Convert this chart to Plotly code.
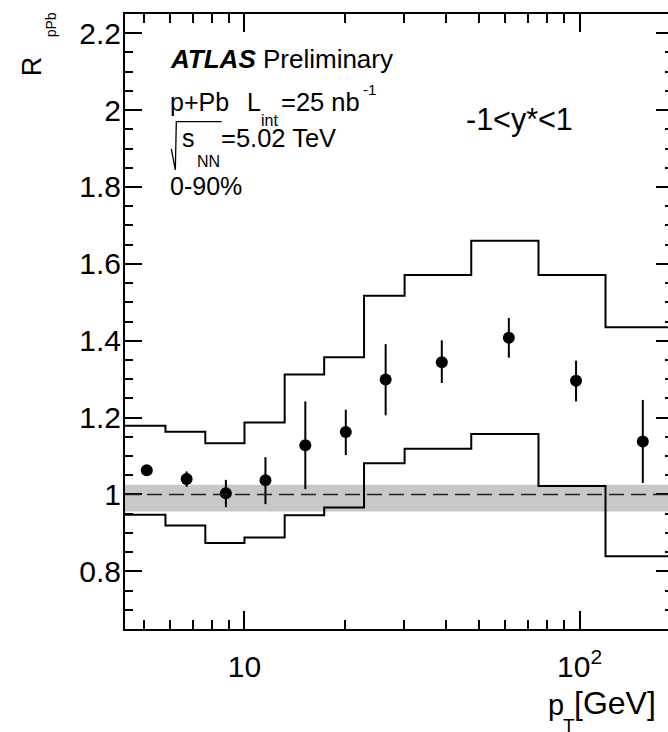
import math
import plotly.graph_objects as go

# ---------------- data ----------------
pt = [5.11, 6.72, 8.80, 11.55, 15.19, 20.06, 26.38, 38.8, 61.5, 97.6, 154.4]
rppb = [1.063, 1.040, 1.003, 1.037, 1.128, 1.1625, 1.299, 1.344, 1.408, 1.296, 1.138]
err_up = [0.008, 0.02, 0.035, 0.06, 0.114, 0.058, 0.092, 0.057, 0.051, 0.052, 0.108]
err_dn = [0.008, 0.02, 0.036, 0.062, 0.114, 0.060, 0.093, 0.054, 0.052, 0.054, 0.108]

bin_edges = [4.4, 5.81, 7.64, 10.0, 13.18, 17.29, 22.74, 30.05, 47.5, 75.4, 119.5, 200.0]
sys_upper = [1.179, 1.163, 1.133, 1.187, 1.312, 1.357, 1.517, 1.571, 1.66, 1.571, 1.435]
sys_lower = [0.9475, 0.919, 0.874, 0.888, 0.946, 0.966, 1.081, 1.119, 1.157, 1.022, 0.839]

norm_band = [0.956, 1.0255]
unity = 1.0

x_range = [4.4, 190.0]
y_range = [0.65, 2.25]
x_major = [10, 100]
x_major_text = ["10", "10<sup>2</sup>"]
x_minor = [5, 6, 7, 8, 9, 20, 30, 40, 50, 60, 70, 80, 90]

FONT = "Liberation Sans, Arial, Helvetica, sans-serif"

# ---------------- geometry (pixels) ----------------
L, T, W, H = 125, 14, 550, 615.3
FIG_W, FIG_H = 680, 732


def px(x):
    return (x - L) / W


def py(y):
    return (T + H - y) / H


fig = go.Figure()

# systematic envelope (step histograms)
fig.add_trace(go.Scatter(x=bin_edges, y=sys_upper + [sys_upper[-1]], mode="lines",
                         line=dict(color="black", width=2, shape="hv"),
                         showlegend=False, hoverinfo="skip"))
fig.add_trace(go.Scatter(x=bin_edges, y=sys_lower + [sys_lower[-1]], mode="lines",
                         line=dict(color="black", width=2, shape="hv"),
                         showlegend=False, hoverinfo="skip"))

# data points
fig.add_trace(go.Scatter(x=pt, y=rppb, mode="markers",
                         marker=dict(color="black", size=12),
                         error_y=dict(type="data", symmetric=False, array=err_up,
                                      arrayminus=err_dn, color="black",
                                      thickness=2, width=0),
                         showlegend=False))

shapes = [
    dict(type="rect", xref="paper", yref="y", x0=0, x1=1,
         y0=norm_band[0], y1=norm_band[1], fillcolor="#c8c8c8",
         line=dict(width=0), layer="below"),
    dict(type="line", xref="paper", yref="y", x0=0, x1=1, y0=unity, y1=unity,
         line=dict(color="#222222", width=1.6, dash="15px,7px"), layer="above"),
    # sqrt sign
    dict(type="path", xref="paper", yref="paper",
         path=f"M {px(171.5)},{py(149)} L {px(175.5)},{py(170)} L {px(176.5)},{py(121.7)} L {px(222)},{py(121.7)}",
         line=dict(color="black", width=1.3)),
]


def ann(text, xl, base, fs, anchor="left", **kw):
    return dict(text=text, xref="paper", yref="paper", x=px(xl), y=py(base - 0.35 * fs),
                xanchor=anchor, yanchor="middle", showarrow=False,
                font=dict(family=FONT, size=fs, color="black"), **kw)


annotations = [
    ann("<b><i>ATLAS</i></b> Preliminary", 168, 68.5, 26),
    ann("p+Pb", 168, 111, 25),
    ann("L", 245, 111, 25),
    ann("int", 259, 126, 16),
    ann("=25 nb", 280, 111, 25.5),
    ann("-1", 361.5, 95, 15),
    ann("s", 180, 147, 25),
    ann("NN", 195.5, 167.5, 16),
    ann("=5.02 TeV", 219.5, 147, 25.5),
    ann("0-90%", 168, 195, 25),
    ann("-1<y*<1", 521, 130, 30.5, anchor="center"),
    # axis titles
    dict(text="R", xref="paper", yref="paper", x=px(32), y=py(66), xanchor="center",
         yanchor="middle", textangle=-90, showarrow=False,
         font=dict(family=FONT, size=27, color="black")),
    dict(text="pPb", xref="paper", yref="paper", x=px(51), y=py(25), xanchor="center",
         yanchor="middle", textangle=-90, showarrow=False,
         font=dict(family=FONT, size=14, color="black")),
    ann("p", 548, 715, 29),
    ann("T", 562.5, 732, 19),
    ann("[GeV]", 574, 715, 32),
]

axis_common = dict(showline=True, linecolor="black", linewidth=2, mirror="ticks",
                   ticks="inside", tickcolor="black", tickwidth=1.5,
                   showgrid=False, zeroline=False,
                   tickfont=dict(family=FONT, size=30, color="black"))

fig.update_layout(
    width=FIG_W, height=FIG_H,
    margin=dict(l=L, r=FIG_W - L - W, t=T, b=FIG_H - T - H, pad=0),
    paper_bgcolor="white", plot_bgcolor="white",
    font=dict(family=FONT, color="black"),
    shapes=shapes, annotations=annotations,
    xaxis=dict(type="log", range=[math.log10(x_range[0]), math.log10(x_range[1])],
               tickvals=x_major, ticktext=x_major_text, ticklen=18,
               ticklabelstandoff=10,
               minor=dict(tickvals=x_minor, ticklen=9, ticks="inside",
                          tickcolor="black", tickwidth=1.5),
               **axis_common),
    yaxis=dict(range=y_range, tick0=0, dtick=0.2, ticklen=17,
               ticklabelstandoff=-4,
               minor=dict(dtick=0.05, tick0=0, ticklen=8, ticks="inside",
                          tickcolor="black", tickwidth=1.5),
               **axis_common),
)

fig.write_html("out.html",
               post_script="document.body.style.margin='0';document.body.style.overflow='hidden';document.documentElement.style.overflow='hidden';")
